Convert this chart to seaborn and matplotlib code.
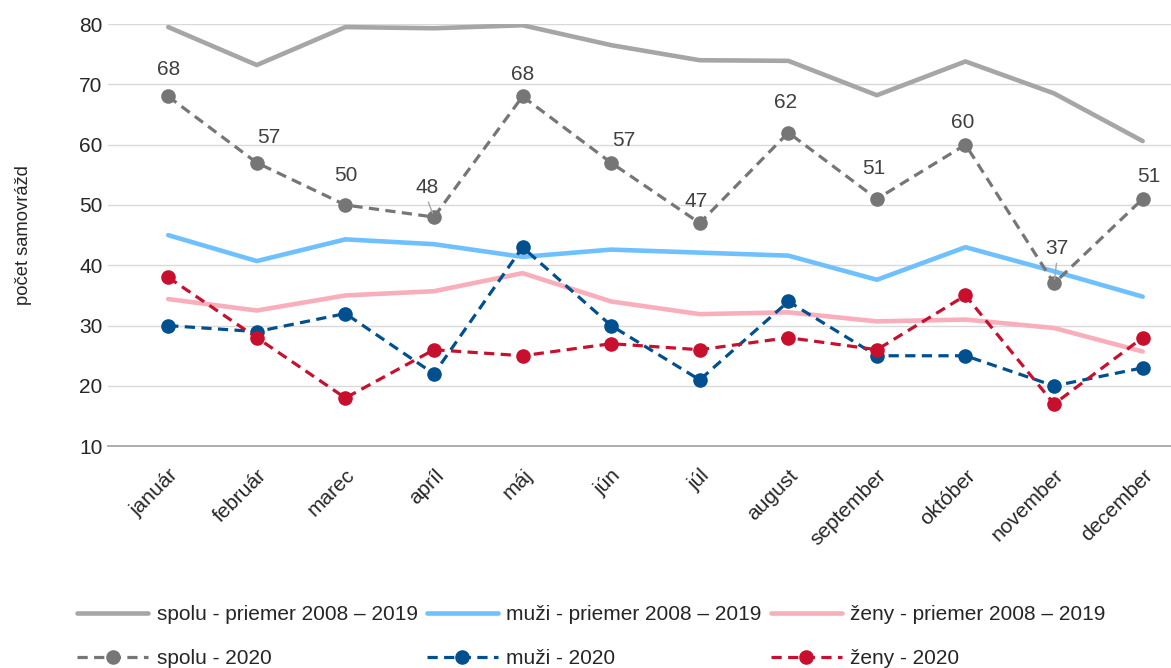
import numpy as np
import pandas as pd
import matplotlib
matplotlib.use("Agg")
import matplotlib.pyplot as plt
import seaborn as sns

# Data
months = ["január", "február", "marec", "apríl", "máj", "jún", "júl",
          "august", "september", "október", "november", "december"]

spolu_priemer = [79.5, 73.2, 79.5, 79.3, 79.8, 76.5, 74.0, 73.9, 68.2, 73.8, 68.5, 60.6]
muzi_priemer = [45.0, 40.7, 44.3, 43.5, 41.4, 42.6, 42.1, 41.6, 37.6, 43.0, 39.0, 34.8]
zeny_priemer = [34.4, 32.5, 35.0, 35.7, 38.7, 34.0, 31.9, 32.2, 30.7, 31.0, 29.6, 25.7]

spolu_2020 = [68, 57, 50, 48, 68, 57, 47, 62, 51, 60, 37, 51]
muzi_2020 = [30, 29, 32, 22, 43, 30, 21, 34, 25, 25, 20, 23]
zeny_2020 = [38, 28, 18, 26, 25, 27, 26, 28, 26, 35, 17, 28]

series_names = ["spolu - priemer 2008 – 2019", "muži - priemer 2008 – 2019",
                "ženy - priemer 2008 – 2019", "spolu - 2020", "muži - 2020", "ženy - 2020"]
series_values = [spolu_priemer, muzi_priemer, zeny_priemer, spolu_2020, muzi_2020, zeny_2020]

# styles
colors = ["#A6A6A6", "#6FC0FF", "#F9AEBC", "#767676", "#00508F", "#C8102E"]
is_2020 = [False, False, False, True, True, True]

# label offsets for spolu 2020 (pixels, dx, dy up)
label_off = [(0, 27), (12, 25), (0, 29), (-7, 30), (0, 22), (13, 22),
             (-4, 22), (-3, 30), (-3, 30), (-3, 22), (3, 35), (6, 22)]
leader = [False, False, False, True, False, False, False, False, False, False, True, False]

rows = []
for name, vals in zip(series_names, series_values):
    for m, v in zip(months, vals):
        rows.append({"month": m, "value": v, "series": name})
df = pd.DataFrame(rows)

sns.set_theme(style="white")
plt.rcParams["font.family"] = ["Liberation Sans", "DejaVu Sans"]

FS = 15

fig = plt.figure(figsize=(11.71, 6.68), dpi=100)
ax = fig.add_axes([0.0922, 0.332, 0.9078, 0.632])

for name, col, dashed in zip(series_names, colors, is_2020):
    sub = df[df["series"] == name]
    if dashed:
        sns.lineplot(data=sub, x="month", y="value", ax=ax, sort=False,
                     color=col, linewidth=2.3, marker="o", markersize=10.5,
                     markeredgewidth=0, label=name, zorder=4)
        ax.lines[-1].set_dashes((3.2, 2.0))
    else:
        sns.lineplot(data=sub, x="month", y="value", ax=ax, sort=False,
                     color=col, linewidth=3.3, label=name, zorder=3)

# data labels on spolu 2020
px2pt = 0.72
for i, (v, (dx, dy), ld) in enumerate(zip(spolu_2020, label_off, leader)):
    ax.annotate(str(v), xy=(i, v), xytext=(dx * px2pt, dy * px2pt),
                textcoords="offset points", ha="center", va="center",
                fontsize=FS, color="#404040", annotation_clip=False, zorder=6)
    if ld:
        ax.annotate("", xy=(i, v), xytext=(dx * px2pt * 0.8, (dy - 15) * px2pt),
                    textcoords="offset points",
                    arrowprops=dict(arrowstyle="-", color="#A6A6A6", lw=1,
                                    shrinkA=0, shrinkB=3), zorder=6)

ax.set_ylim(10, 80)
ax.set_yticks(range(10, 81, 10))
ax.set_xlim(-0.68, 11.32)
ax.yaxis.grid(True, color="#D9D9D9", linewidth=1)
ax.set_axisbelow(True)
for s in ["top", "right", "left"]:
    ax.spines[s].set_visible(False)
ax.spines["bottom"].set_color("#A0A0A0")
ax.spines["bottom"].set_linewidth(1.2)
ax.tick_params(axis="y", length=0, labelsize=FS, labelcolor="#262626", pad=4)
ax.tick_params(axis="x", length=0, labelsize=FS, labelcolor="#262626", pad=14)
plt.setp(ax.get_xticklabels(), rotation=45, ha="right", rotation_mode="anchor")
ax.set_xlabel("")
ax.set_ylabel("počet samovrážd", fontsize=13.2, color="#262626", labelpad=34)

# legend: rows filled with priemer first, then 2020
h, l = ax.get_legend_handles_labels()
ax.get_legend().remove()
order = [0, 3, 1, 4, 2, 5]
fig.legend([h[i] for i in order], [l[i] for i in order], ncol=3,
           loc="lower center", bbox_to_anchor=(0.505, -0.028), frameon=False,
           fontsize=FS, handlelength=3.4, handletextpad=0.4,
           columnspacing=0.45, labelspacing=1.2)

fig.savefig("out.png", dpi=100)
